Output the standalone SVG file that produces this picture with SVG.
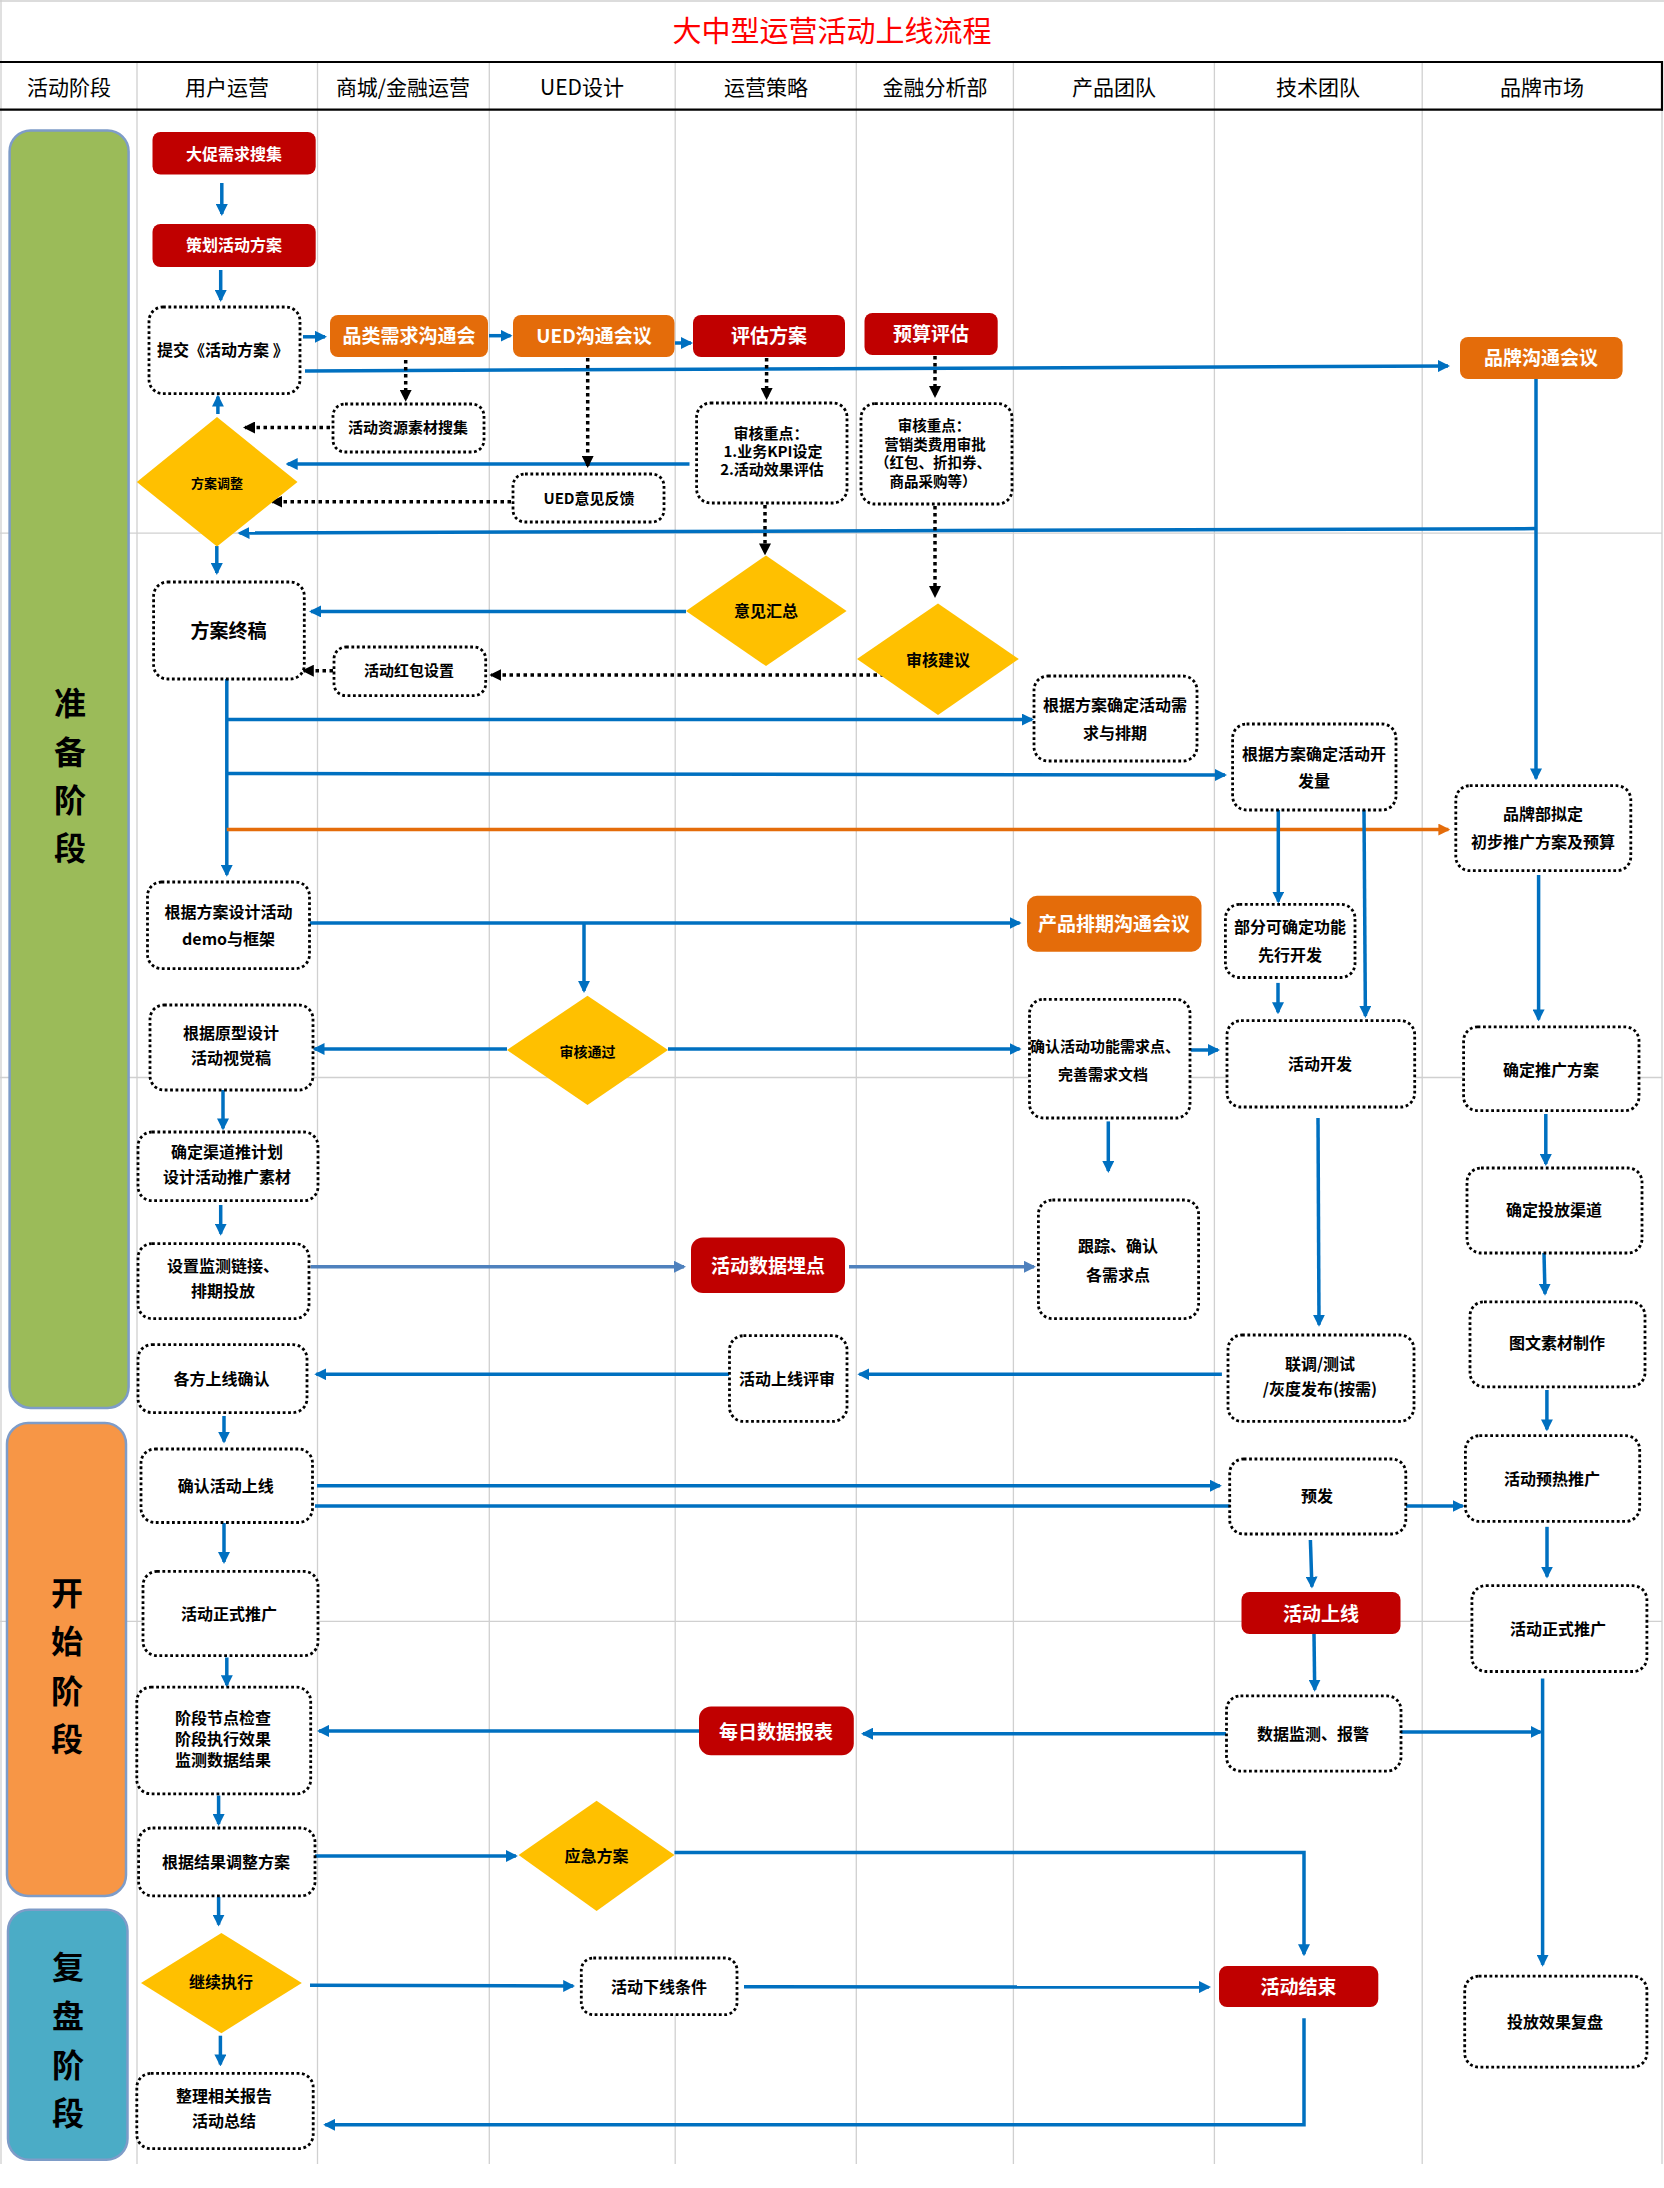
<svg xmlns="http://www.w3.org/2000/svg" width="1664" height="2188" viewBox="0 0 1664 2188">
<defs>
<style>
.hd{font-family:"Noto Sans CJK SC","Liberation Sans",sans-serif;font-size:21px;fill:#000;text-anchor:middle}
.t{font-family:"Noto Sans CJK SC","Liberation Sans",sans-serif;font-weight:bold;font-size:16px;fill:#000;text-anchor:middle}
.w{fill:#fff;font-size:19px}
.ph{font-family:"Noto Sans CJK SC","Liberation Sans",sans-serif;font-weight:bold;font-size:32px;fill:#000;text-anchor:middle}
.db{fill:#fff;stroke:#000;stroke-width:2.8;stroke-dasharray:2.8 2.6}
.red{fill:#C00000}
.org{fill:#E46C0A}
.dia{fill:#FFC000}
.g{stroke:#D0D0D0;stroke-width:1.3}
.ln{stroke:#0070C0;stroke-width:3.5;fill:none;marker-end:url(#ab)}
.nl{stroke:#0070C0;stroke-width:3.5;fill:none}
.lt{stroke:#4F81BD;stroke-width:3.5;fill:none;marker-end:url(#al)}
.ol{stroke:#E46C0A;stroke-width:3.5;fill:none;marker-end:url(#ao)}
.dt{stroke:#000;stroke-width:3.5;stroke-dasharray:3.5 3.5;fill:none;marker-end:url(#ak)}
</style>
<marker id="ab" viewBox="0 0 12 12" refX="10" refY="6" markerWidth="12" markerHeight="12" markerUnits="userSpaceOnUse" orient="auto"><path d="M0,0 L12,6 L0,12 z" fill="#0070C0"/></marker>
<marker id="al" viewBox="0 0 12 12" refX="10" refY="6" markerWidth="12" markerHeight="12" markerUnits="userSpaceOnUse" orient="auto"><path d="M0,0 L12,6 L0,12 z" fill="#4F81BD"/></marker>
<marker id="ao" viewBox="0 0 12 12" refX="10" refY="6" markerWidth="12" markerHeight="12" markerUnits="userSpaceOnUse" orient="auto"><path d="M0,0 L12,6 L0,12 z" fill="#E46C0A"/></marker>
<marker id="ak" viewBox="0 0 12 12" refX="10" refY="6" markerWidth="12" markerHeight="12" markerUnits="userSpaceOnUse" orient="auto"><path d="M0,0 L12,6 L0,12 z" fill="#000"/></marker>
</defs>
<rect x="0" y="0" width="1664" height="2188" fill="#fff"/>
<g id="grid">
<line class="g" x1="0" y1="1" x2="1664" y2="1"/>
<line class="g" x1="1" y1="0" x2="1" y2="2164"/>
<line class="g" x1="1662" y1="62" x2="1662" y2="2164"/>
<line class="g" x1="137" y1="62" x2="137" y2="2164"/>
<line class="g" x1="317.5" y1="62" x2="317.5" y2="2164"/>
<line class="g" x1="489.3" y1="62" x2="489.3" y2="2164"/>
<line class="g" x1="675.2" y1="62" x2="675.2" y2="2164"/>
<line class="g" x1="856.3" y1="62" x2="856.3" y2="2164"/>
<line class="g" x1="1013.4" y1="62" x2="1013.4" y2="2164"/>
<line class="g" x1="1214.4" y1="62" x2="1214.4" y2="2164"/>
<line class="g" x1="1422.2" y1="62" x2="1422.2" y2="2164"/>
<line class="g" x1="0" y1="533.2" x2="1662" y2="533.2"/>
<line class="g" x1="0" y1="1077.5" x2="1662" y2="1077.5"/>
<line class="g" x1="0" y1="1621.4" x2="1662" y2="1621.4"/>
</g>
<g id="header">
<text x="832" y="41.7" font-family="Noto Sans CJK SC, Liberation Sans, sans-serif" font-size="29" fill="#FF0000" text-anchor="middle">大中型运营活动上线流程</text>
<line x1="0" y1="62" x2="1663" y2="62" stroke="#000" stroke-width="2.2"/>
<line x1="0" y1="109.6" x2="1663" y2="109.6" stroke="#000" stroke-width="2.2"/>
<line x1="1662" y1="61" x2="1662" y2="110.6" stroke="#000" stroke-width="2.2"/>
<text class="hd" x="69" y="94.6">活动阶段</text>
<text class="hd" x="227" y="94.6">用户运营</text>
<text class="hd" x="403" y="94.6">商城/金融运营</text>
<text class="hd" x="582" y="94.6">UED设计</text>
<text class="hd" x="766" y="94.6">运营策略</text>
<text class="hd" x="935" y="94.6">金融分析部</text>
<text class="hd" x="1114" y="94.6">产品团队</text>
<text class="hd" x="1318" y="94.6">技术团队</text>
<text class="hd" x="1542" y="94.6">品牌市场</text>
</g>
<g id="phase-prepare">
<rect x="9.6" y="130.4" width="119" height="1277.5" rx="21" fill="#9BBB59" stroke="#7E9CC8" stroke-width="2.5"/>
<text class="ph" x="70" y="715.4">准</text>
<text class="ph" x="70" y="763.6">备</text>
<text class="ph" x="70" y="811.8">阶</text>
<text class="ph" x="70" y="860">段</text>
</g>
<g id="phase-start">
<rect x="7" y="1423" width="119" height="472.9" rx="21" fill="#F79646" stroke="#7E9CC8" stroke-width="2.5"/>
<text class="ph" x="67" y="1604.8">开</text>
<text class="ph" x="67" y="1652.8">始</text>
<text class="ph" x="67" y="1702.5">阶</text>
<text class="ph" x="67" y="1751.4">段</text>
</g>
<g id="phase-review">
<rect x="8" y="1909.8" width="119.5" height="249.9" rx="21" fill="#4BACC6" stroke="#7E9CC8" stroke-width="2.5"/>
<text class="ph" x="68" y="1978.6">复</text>
<text class="ph" x="68" y="2027.5">盘</text>
<text class="ph" x="68" y="2076.5">阶</text>
<text class="ph" x="68" y="2125.4">段</text>
</g>
<g id="connectors">
<line class="ln" x1="221.8" y1="183" x2="221.8" y2="214"/>
<line class="ln" x1="220.7" y1="270" x2="220.7" y2="300"/>
<line class="ln" x1="303" y1="336.8" x2="325" y2="336.8"/>
<line class="ln" x1="489" y1="335.7" x2="510.5" y2="335.7"/>
<line class="ln" x1="675" y1="343" x2="691" y2="343"/>
<line class="ln" x1="305" y1="371" x2="1448" y2="366"/>
<line class="ln" x1="217.9" y1="414" x2="217.9" y2="396.6"/>
<line class="ln" x1="689.5" y1="464" x2="287.7" y2="464"/>
<line class="ln" x1="1536" y1="528.6" x2="239.5" y2="533"/>
<line class="ln" x1="1536" y1="379" x2="1536" y2="778.4"/>
<line class="ln" x1="216.8" y1="546" x2="216.8" y2="573"/>
<line class="ln" x1="686" y1="611.4" x2="311" y2="611.4"/>
<line class="ln" x1="226.8" y1="679" x2="226.8" y2="874.8"/>
<line class="ln" x1="226.8" y1="719.6" x2="1032" y2="719.6"/>
<line class="ln" x1="226.8" y1="773.5" x2="1225" y2="775"/>
<line class="ol" x1="226.8" y1="829.6" x2="1448.4" y2="829.6"/>
<line class="ln" x1="309.6" y1="923" x2="1019.6" y2="923"/>
<line class="ln" x1="584" y1="923" x2="584" y2="990.9"/>
<line class="ln" x1="507" y1="1049" x2="314.5" y2="1049"/>
<line class="ln" x1="668" y1="1049" x2="1019.6" y2="1049"/>
<line class="ln" x1="1278.3" y1="810" x2="1278.3" y2="901.6"/>
<line class="ln" x1="1364" y1="810" x2="1365.4" y2="1015.9"/>
<line class="ln" x1="1278" y1="982.9" x2="1278" y2="1012.3"/>
<line class="ln" x1="1190.8" y1="1050" x2="1218" y2="1050"/>
<line class="ln" x1="1538.6" y1="875" x2="1538.6" y2="1019.4"/>
<line class="ln" x1="223" y1="1090" x2="223" y2="1128.4"/>
<line class="ln" x1="220.7" y1="1205" x2="220.7" y2="1233.7"/>
<line class="lt" x1="310.7" y1="1266.8" x2="684" y2="1266.8"/>
<line class="lt" x1="849" y1="1266.8" x2="1034" y2="1266.8"/>
<line class="ln" x1="1108.3" y1="1121.4" x2="1108.3" y2="1171"/>
<line class="ln" x1="1318" y1="1118" x2="1319" y2="1324.8"/>
<line class="ln" x1="1221.9" y1="1374.3" x2="859.4" y2="1374.3"/>
<line class="ln" x1="729" y1="1374.3" x2="316.3" y2="1374.3"/>
<line class="ln" x1="224" y1="1416" x2="224" y2="1441.6"/>
<line class="ln" x1="317" y1="1485.7" x2="1219.9" y2="1485.7"/>
<line class="nl" x1="315" y1="1506" x2="1230.8" y2="1506"/>
<line class="ln" x1="1405.8" y1="1506" x2="1462.7" y2="1506"/>
<line class="ln" x1="1545.8" y1="1114" x2="1545.8" y2="1164"/>
<line class="ln" x1="1544" y1="1252.9" x2="1545" y2="1293.7"/>
<line class="ln" x1="1546.9" y1="1390" x2="1546.9" y2="1429.4"/>
<line class="ln" x1="1547" y1="1526.8" x2="1547" y2="1576.6"/>
<line class="ln" x1="224" y1="1523" x2="224" y2="1562"/>
<line class="ln" x1="1310.4" y1="1540" x2="1311.9" y2="1586.6"/>
<line class="ln" x1="1314" y1="1634" x2="1314.7" y2="1689.7"/>
<line class="ln" x1="226.8" y1="1657.5" x2="226.8" y2="1685.2"/>
<line class="ln" x1="699" y1="1730.9" x2="319" y2="1730.9"/>
<line class="ln" x1="1226" y1="1733.7" x2="863" y2="1733.7"/>
<line class="ln" x1="1401" y1="1731.9" x2="1540.6" y2="1731.9"/>
<line class="ln" x1="1542.6" y1="1678.4" x2="1542.6" y2="1964.8"/>
<line class="ln" x1="218.6" y1="1795.5" x2="218.6" y2="1824"/>
<line class="ln" x1="309" y1="1856" x2="515.9" y2="1856"/>
<polyline class="ln" points="674.5,1852.5 1304,1852.5 1304,1954.3"/>
<line class="ln" x1="218.6" y1="1896.9" x2="218.6" y2="1924.6"/>
<line class="ln" x1="310" y1="1985.3" x2="573.2" y2="1986"/>
<line class="ln" x1="744" y1="1986.7" x2="1209" y2="1987.1"/>
<polyline class="ln" points="1304,2018.2 1304,2124.8 325.2,2124.8"/>
<line class="ln" x1="220.4" y1="2035.7" x2="220.4" y2="2064.4"/>
<line class="dt" x1="405.7" y1="360" x2="405.7" y2="399.8"/>
<line class="dt" x1="330" y1="427.5" x2="245" y2="427.5"/>
<line class="dt" x1="511" y1="501.8" x2="272.4" y2="501.8"/>
<line class="dt" x1="587.7" y1="358" x2="587.7" y2="465.9"/>
<line class="dt" x1="766.6" y1="358" x2="766.6" y2="398"/>
<line class="dt" x1="765" y1="505" x2="765" y2="553.4"/>
<line class="dt" x1="935" y1="356" x2="935" y2="396"/>
<line class="dt" x1="935" y1="506" x2="935" y2="596"/>
<line class="dt" x1="884" y1="675" x2="491.3" y2="675"/>
<line class="dt" x1="333" y1="670.7" x2="303.8" y2="670.7"/>
</g>
<g id="n-dacu"><rect class="red" x="152.5" y="132" width="163.2" height="42.6" rx="8"/><text class="t w" x="234" y="159.9" style="font-size:16px">大促需求搜集</text></g>
<g id="n-cehua"><rect class="red" x="152.5" y="224" width="163.2" height="43" rx="8"/><text class="t w" x="234" y="251.4" style="font-size:16px">策划活动方案</text></g>
<g id="n-tijiao"><rect class="db" x="149" y="307" width="151" height="86.6" rx="14"/><text class="t" x="157" y="355.9" style="text-anchor:start">提交《活动方案 》</text></g>
<g id="n-pinlei"><rect class="org" x="330" y="315" width="158" height="42" rx="8"/><text class="t w" x="409" y="343">品类需求沟通会</text></g>
<g id="n-uedhy"><rect class="org" x="513" y="315" width="161.5" height="42" rx="8"/><text class="t w" x="594" y="343">UED沟通会议</text></g>
<g id="n-pinggu"><rect class="red" x="693" y="315" width="152" height="42" rx="8"/><text class="t w" x="769" y="343">评估方案</text></g>
<g id="n-yusuan"><rect class="red" x="864.5" y="313" width="133.2" height="42" rx="8"/><text class="t w" x="931" y="341">预算评估</text></g>
<g id="n-pinpaihy"><rect class="org" x="1460" y="337" width="162.6" height="42" rx="8"/><text class="t w" x="1541" y="365">品牌沟通会议</text></g>
<g id="n-ziyuan"><rect class="db" x="333" y="404" width="151" height="48" rx="12"/><text class="t" x="408" y="433" style="font-size:15px">活动资源素材搜集</text></g>
<g id="n-tiaozheng"><polygon class="dia" points="136.8,482 217,417 297.5,482 217,546.4"/><text class="t" x="217" y="487.8" style="font-size:13px">方案调整</text></g>
<g id="n-uedfk"><rect class="db" x="513" y="474" width="151" height="48" rx="12"/><text class="t" x="589" y="503.5" style="font-size:15px">UED意见反馈</text></g>
<g id="n-shenhe1"><rect class="db" x="696.6" y="403" width="150.4" height="100" rx="14"/><text class="t" x="771" y="438.5" style="font-size:15px">审核重点：</text><text class="t" x="773" y="457.3" style="font-size:15px">1.业务KPI设定</text><text class="t" x="772" y="475.1" style="font-size:15px">2.活动效果评估</text></g>
<g id="n-shenhe2"><rect class="db" x="861" y="403.6" width="151" height="100.4" rx="14"/><text class="t" x="934" y="431" style="font-size:14.5px">审核重点：</text><text class="t" x="935" y="449.9" style="font-size:14.5px">营销类费用审批</text><text class="t" x="933" y="468.3" style="font-size:14.5px">（红包、折扣券、</text><text class="t" x="933" y="486.7" style="font-size:14.5px">商品采购等）</text></g>
<g id="n-huizong"><polygon class="dia" points="686,611 766,555.4 846.6,611 766,666"/><text class="t" x="766" y="617">意见汇总</text></g>
<g id="n-jianyi"><polygon class="dia" points="857,659 938,603.6 1018.8,659 938,715"/><text class="t" x="938" y="666">审核建议</text></g>
<g id="n-zhonggao"><rect class="db" x="153.6" y="582" width="150.7" height="97" rx="14"/><text class="t" x="228.6" y="638.4" style="font-size:19px">方案终稿</text></g>
<g id="n-hongbao"><rect class="db" x="334" y="647" width="151.7" height="48.7" rx="12"/><text class="t" x="409" y="676.2" style="font-size:15px">活动红包设置</text></g>
<g id="n-xuqiu"><rect class="db" x="1034" y="676" width="163" height="85" rx="14"/><text class="t" x="1115" y="711">根据方案确定活动需</text><text class="t" x="1115" y="739">求与排期</text></g>
<g id="n-kaifaliang"><rect class="db" x="1232.6" y="724" width="163.4" height="86" rx="14"/><text class="t" x="1314" y="760.2">根据方案确定活动开</text><text class="t" x="1314" y="787.3">发量</text></g>
<g id="n-pinpaini"><rect class="db" x="1455.8" y="785.7" width="175" height="85" rx="14"/><text class="t" x="1543" y="820.2">品牌部拟定</text><text class="t" x="1543" y="847.9">初步推广方案及预算</text></g>
<g id="n-demo"><rect class="db" x="147.5" y="882" width="162" height="86.6" rx="14"/><text class="t" x="228.6" y="918.4">根据方案设计活动</text><text class="t" x="228.6" y="945.2">demo与框架</text></g>
<g id="n-chanpin"><rect class="org" x="1027" y="895.7" width="174.5" height="56" rx="10"/><text class="t w" x="1114" y="931">产品排期沟通会议</text></g>
<g id="n-bufen"><rect class="db" x="1225.4" y="904.3" width="129.6" height="73.2" rx="14"/><text class="t" x="1290" y="933.4">部分可确定功能</text><text class="t" x="1290" y="961.3">先行开发</text></g>
<g id="n-tongguo"><polygon class="dia" points="507,1050 587.5,995.7 668,1050 587.5,1105"/><text class="t" x="587.5" y="1057.2" style="font-size:14px">审核通过</text></g>
<g id="n-shijue"><rect class="db" x="150" y="1005" width="163" height="85" rx="14"/><text class="t" x="231" y="1038.8">根据原型设计</text><text class="t" x="231" y="1063.8">活动视觉稿</text></g>
<g id="n-gongneng"><rect class="db" x="1029.5" y="999.3" width="160.5" height="118.7" rx="14"/><text class="t" x="1105" y="1052" style="font-size:15px">确认活动功能需求点、</text><text class="t" x="1103" y="1079.5" style="font-size:15px">完善需求文档</text></g>
<g id="n-kaifa"><rect class="db" x="1227" y="1020.7" width="187.7" height="86.3" rx="14"/><text class="t" x="1320" y="1069.5">活动开发</text></g>
<g id="n-tuiguang"><rect class="db" x="1463.6" y="1026.8" width="175.4" height="83.9" rx="14"/><text class="t" x="1551" y="1075.5">确定推广方案</text></g>
<g id="n-qudao"><rect class="db" x="138" y="1132" width="180" height="68.7" rx="14"/><text class="t" x="227" y="1158.4">确定渠道推计划</text><text class="t" x="227" y="1182.7">设计活动推广素材</text></g>
<g id="n-jiance"><rect class="db" x="138" y="1243.6" width="171" height="75" rx="14"/><text class="t" x="223" y="1271.9">设置监测链接、</text><text class="t" x="223" y="1296.9">排期投放</text></g>
<g id="n-maidian"><rect class="red" x="691" y="1237.5" width="154" height="55.4" rx="12"/><text class="t w" x="768" y="1273">活动数据埋点</text></g>
<g id="n-genzong"><rect class="db" x="1038.4" y="1200" width="160.2" height="118.6" rx="14"/><text class="t" x="1118" y="1252.3">跟踪、确认</text><text class="t" x="1118" y="1280.9">各需求点</text></g>
<g id="n-toufang"><rect class="db" x="1467" y="1168" width="175" height="85" rx="14"/><text class="t" x="1554" y="1215.9">确定投放渠道</text></g>
<g id="n-sucai"><rect class="db" x="1470" y="1301.8" width="175" height="85" rx="14"/><text class="t" x="1557" y="1348.9">图文素材制作</text></g>
<g id="n-gefang"><rect class="db" x="138" y="1344.6" width="169" height="68" rx="14"/><text class="t" x="221.4" y="1384.5">各方上线确认</text></g>
<g id="n-pingshen"><rect class="db" x="729.5" y="1335.7" width="117.5" height="85.7" rx="14"/><text class="t" x="787" y="1384.5">活动上线评审</text></g>
<g id="n-liantiao"><rect class="db" x="1228" y="1335" width="186" height="86.4" rx="14"/><text class="t" x="1320" y="1370.2">联调/测试</text><text class="t" x="1320" y="1395.2">/灰度发布(按需)</text></g>
<g id="n-querensx"><rect class="db" x="141" y="1449" width="171.5" height="73.5" rx="14"/><text class="t" x="225.7" y="1491.6">确认活动上线</text></g>
<g id="n-yufa"><rect class="db" x="1229.7" y="1459" width="176.1" height="75" rx="14"/><text class="t" x="1317" y="1501.6">预发</text></g>
<g id="n-yure"><rect class="db" x="1465.4" y="1435.7" width="174.3" height="85.7" rx="14"/><text class="t" x="1552" y="1485.2">活动预热推广</text></g>
<g id="n-zhengshi-l"><rect class="db" x="143" y="1571.4" width="175" height="84.3" rx="14"/><text class="t" x="229" y="1619.9">活动正式推广</text></g>
<g id="n-shangxian"><rect class="red" x="1241.5" y="1592" width="159" height="42" rx="8"/><text class="t w" x="1321" y="1620.6">活动上线</text></g>
<g id="n-zhengshi-r"><rect class="db" x="1471.9" y="1585.7" width="175" height="85.8" rx="14"/><text class="t" x="1558" y="1635.2">活动正式推广</text></g>
<g id="n-jieduan"><rect class="db" x="136.8" y="1687.2" width="173.9" height="106.6" rx="14"/><text class="t" x="223" y="1723.5">阶段节点检查</text><text class="t" x="223" y="1744.5">阶段执行效果</text><text class="t" x="223" y="1765.5">监测数据结果</text></g>
<g id="n-meiri"><rect class="red" x="699" y="1706.4" width="154.8" height="48.9" rx="12"/><text class="t w" x="776" y="1738.6">每日数据报表</text></g>
<g id="n-jiankong"><rect class="db" x="1226.5" y="1695.9" width="174.5" height="75.2" rx="14"/><text class="t" x="1313" y="1739.6">数据监测、报警</text></g>
<g id="n-tiaozhengfa"><rect class="db" x="138.6" y="1828" width="176.4" height="67.9" rx="14"/><text class="t" x="226" y="1867.9">根据结果调整方案</text></g>
<g id="n-yingji"><polygon class="dia" points="518.6,1855 596.6,1800.8 674.5,1855 596.6,1910.9"/><text class="t" x="596.6" y="1861.9">应急方案</text></g>
<g id="n-jixu"><polygon class="dia" points="141,1982.9 221.4,1932.9 301.8,1982.9 221.4,2033.2"/><text class="t" x="221" y="1988.4">继续执行</text></g>
<g id="n-xiaxian"><rect class="db" x="581.3" y="1958" width="155.7" height="56.7" rx="12"/><text class="t" x="659" y="1992.6">活动下线条件</text></g>
<g id="n-jieshu"><rect class="red" x="1219" y="1966.1" width="159.3" height="40.9" rx="8"/><text class="t w" x="1298.6" y="1994.1">活动结束</text></g>
<g id="n-fupan"><rect class="db" x="1464.7" y="1976.2" width="182.2" height="90.9" rx="14"/><text class="t" x="1555" y="2027.6">投放效果复盘</text></g>
<g id="n-zongjie"><rect class="db" x="136.8" y="2073.4" width="176.4" height="75.2" rx="14"/><text class="t" x="224" y="2102">整理相关报告</text><text class="t" x="224" y="2126.5">活动总结</text></g>
</svg>
